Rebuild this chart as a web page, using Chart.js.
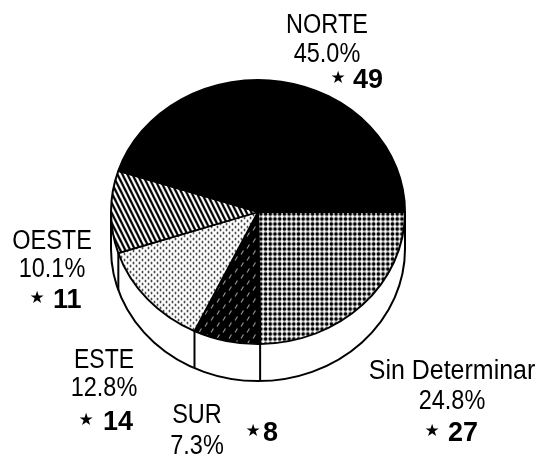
<!DOCTYPE html>
<html>
<head>
<meta charset="utf-8">
<title>Pie</title>
<style>
  html, body { margin: 0; padding: 0; background: #fff; }
  canvas { display: block; }
</style>
<script src="https://cdn.jsdelivr.net/npm/chart.js@4"></script>
</head>
<body>
<canvas id="pie" width="539" height="458"></canvas>
<script>
// clockwise from 3 o'clock
const categories = ['Sin Determinar', 'SUR', 'ESTE', 'OESTE', 'NORTE'];
const counts = [27, 8, 14, 11, 49];
const percents = ['24.8%', '7.3%', '12.8%', '10.1%', '45.0%'];

// label layout, same order as categories: x of centre, baselines, star and bold number
const labelPos = [
  { x: 452, y1: 379, y2: 409, sx: 432, sy: 436, nx: 448, ny: 441, squeeze: 0.925 },
  { x: 197, y1: 423, y2: 454, sx: 253, sy: 436, nx: 263, ny: 441, squeeze: 0.87 },
  { x: 104, y1: 368, y2: 396, sx: 86, sy: 425, nx: 103, ny: 430, squeeze: 0.85 },
  { x: 52, y1: 249, y2: 277, sx: 37, sy: 303, nx: 53, ny: 308, squeeze: 0.87 },
  { x: 327, y1: 33, y2: 62, sx: 338, sy: 83, nx: 353, ny: 88, squeeze: 0.87 }
];

const SQUASH = 133 / 148; // pie is tilted, so y is shrunk
const DEPTH = 37;

function tile(w, h, paint) {
  const c = document.createElement('canvas');
  c.width = w;
  c.height = h;
  const g = c.getContext('2d');
  paint(g);
  const p = document.getElementById('pie').getContext('2d').createPattern(c, 'repeat');
  return p;
}

// undo the squash so the patterns keep their own proportions
function unsquash(p, sx) {
  p.setTransform(new DOMMatrix([sx || 1, 0, 0, 1 / SQUASH, 0, 0]));
  return p;
}

const dotsPattern = unsquash(tile(5, 5, g => {
  g.fillStyle = '#fff';
  g.fillRect(0, 0, 5, 5);
  g.fillStyle = '#000';
  g.beginPath();
  g.arc(2.5, 2.5, 2, 0, Math.PI * 2);
  g.fill();
}), 0.94);

const dashPattern = unsquash(tile(12, 12, g => {
  g.fillStyle = '#000';
  g.fillRect(0, 0, 12, 12);
  g.strokeStyle = '#ddd';
  g.lineWidth = 0.9;
  g.beginPath();
  g.moveTo(1, 5); g.lineTo(3.5, 1);
  g.moveTo(7, 11); g.lineTo(9.5, 7);
  g.stroke();
}));

const finePattern = unsquash(tile(6, 6, g => {
  g.fillStyle = '#fff';
  g.fillRect(0, 0, 6, 6);
  g.fillStyle = '#000';
  g.beginPath();
  g.arc(1.5, 1.5, 0.95, 0, Math.PI * 2);
  g.arc(4.5, 4.5, 0.95, 0, Math.PI * 2);
  g.fill();
}));

const stripePattern = unsquash(tile(5, 10, g => {
  g.fillStyle = '#fff';
  g.fillRect(0, 0, 5, 10);
  g.strokeStyle = '#000';
  g.lineWidth = 2.3;
  g.beginPath();
  for (let i = -2; i < 3; i++) {
    g.moveTo(i * 5, -2);
    g.lineTo(i * 5 + 7, 12);
  }
  g.stroke();
}));

// side wall under the front half, then squash the slices
const tiltPlugin = {
  id: 'tilt',
  beforeDatasetsDraw(chart) {
    const ctx = chart.ctx;
    const arcs = chart.getDatasetMeta(0).data;
    const cx = arcs[0].x, cy = arcs[0].y, r = arcs[0].outerRadius;
    ctx.save();
    ctx.lineWidth = 2;
    ctx.strokeStyle = '#000';
    ctx.fillStyle = '#fff';
    ctx.beginPath();
    ctx.moveTo(cx + r, cy);
    ctx.lineTo(cx + r, cy + DEPTH);
    ctx.ellipse(cx, cy + DEPTH, r, r * SQUASH, 0, 0, Math.PI);
    ctx.lineTo(cx - r, cy);
    ctx.closePath();
    ctx.fill();
    ctx.stroke();
    arcs.forEach(a => {
      if (Math.sin(a.endAngle) <= 0) return;
      const x = cx + r * Math.cos(a.endAngle);
      const y = cy + r * SQUASH * Math.sin(a.endAngle);
      ctx.beginPath();
      ctx.moveTo(x, y);
      ctx.lineTo(x, y + DEPTH);
      ctx.stroke();
    });
    ctx.restore();
    ctx.save();
    ctx.translate(0, cy);
    ctx.scale(1, SQUASH);
    ctx.translate(0, -cy);
  },
  afterDatasetsDraw(chart) {
    chart.ctx.restore();
  }
};

// text labels, thin face is squeezed a bit to match the narrow lettering
const labelPlugin = {
  id: 'labels',
  afterDraw(chart) {
    const ctx = chart.ctx;
    ctx.save();
    ctx.fillStyle = '#000';
    const thin = (s, x, y, squeeze) => {
      ctx.save();
      ctx.translate(x, y);
      ctx.scale(squeeze, 1);
      ctx.font = '27px "Liberation Sans"';
      ctx.textAlign = 'center';
      ctx.fillText(s, 0, 0);
      ctx.restore();
    };
    categories.forEach((name, i) => {
      const p = labelPos[i];
      thin(name, p.x, p.y1, p.squeeze);
      thin(percents[i], p.x, p.y2, 0.87);
      ctx.textAlign = 'center';
      ctx.font = '17px "DejaVu Sans"';
      ctx.fillText('★', p.sx, p.sy);
      ctx.textAlign = 'left';
      ctx.font = 'bold 27px "Liberation Sans"';
      ctx.fillText(String(counts[i]), p.nx, p.ny);
    });
    ctx.restore();
  }
};

new Chart(document.getElementById('pie'), {
  type: 'pie',
  data: {
    labels: categories,
    datasets: [{
      data: counts,
      backgroundColor: [dotsPattern, dashPattern, finePattern, stripePattern, '#000'],
      borderColor: '#000',
      borderWidth: 2
    }]
  },
  options: {
    responsive: false,
    animation: false,
    rotation: 90,
    layout: { padding: { left: 110, right: 133, top: 64, bottom: 98 } },
    plugins: { legend: { display: false }, tooltip: { enabled: false } }
  },
  plugins: [tiltPlugin, labelPlugin]
});
</script>
</body>
</html>
